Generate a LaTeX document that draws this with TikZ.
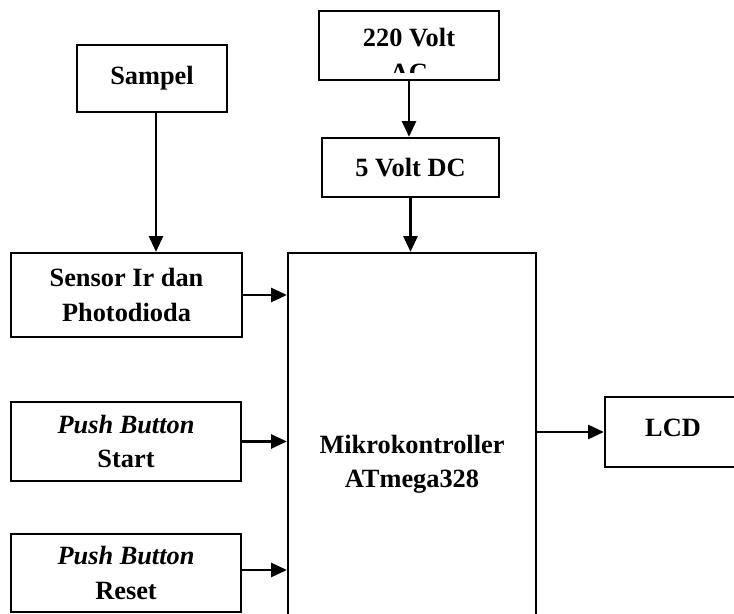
\documentclass[tikz,border=0pt]{standalone}
\usepackage{fontspec}
\setmainfont{Liberation Serif}
\usetikzlibrary{arrows.meta,calc}

\tikzset{
  blok/.style={draw, line width=1.3pt, align=center, inner sep=0pt,
    font=\fontsize{15}{19.5}\selectfont\bfseries},
  panah/.style={-{Triangle[length=9pt,width=8pt]}, line width=1.4pt},
}

\begin{document}
\begin{tikzpicture}[x=0.02cm,y=-0.02cm]
    % page frame, cut at the picture edge
    \clip (0,0) rectangle (734,614);
    % supply
    \node[blok,minimum width=3.6cm,minimum height=1.38cm] (ac) at (409,45.5) {};
    \begin{scope}
      \clip (ac.north west) rectangle ($(ac.south east)+(0,-9)$);
      \node[blok,draw=none] at (409,55) {220 Volt\\AC};
    \end{scope}
    \node[blok,minimum width=3.54cm,minimum height=1.18cm] (dc) at (410.5,167.5) {5 Volt DC};
    % inputs
    \node[blok,minimum width=3.0cm,minimum height=1.34cm] (sampel) at (152,78.5) {\raisebox{0.1cm}{Sampel}};
    \node[blok,minimum width=4.62cm,minimum height=1.68cm] (sensor) at (126.5,295) {Sensor Ir dan\\Photodioda};
    \node[blok,minimum width=4.6cm,minimum height=1.58cm] (start) at (126,441.5) {\textit{Push Button}\\Start};
    \node[blok,minimum width=4.6cm,minimum height=1.56cm] (reset) at (126,573) {\textit{Push Button}\\Reset};
    % controller and display
    \node[blok,minimum width=4.96cm,minimum height=8.46cm] (mikro) at (412,464.5) {Mikrokontroller\\ATmega328};
    \node[blok,minimum width=2.72cm,minimum height=1.4cm] (lcd) at (673,432) {\raisebox{0.18cm}{LCD}};
    % connections
    \draw[panah] (ac.south) -- (ac.south |- dc.north);
    \draw[panah] (dc.south) -- (dc.south |- mikro.north);
    \draw[panah] ($(sampel.south)+(4,0)$) -- ($(sampel.south |- sensor.north)+(4,0)$);
    \draw[panah] (sensor.east) -- (sensor.east -| mikro.west);
    \draw[panah] (start.east) -- (start.east -| mikro.west);
    \draw[panah] ($(reset.east)+(0,-3)$) -- ($(reset.east -| mikro.west)+(0,-3)$);
    \draw[panah] (lcd.west -| mikro.east) -- (lcd.west);
  \end{tikzpicture}
\end{document}
